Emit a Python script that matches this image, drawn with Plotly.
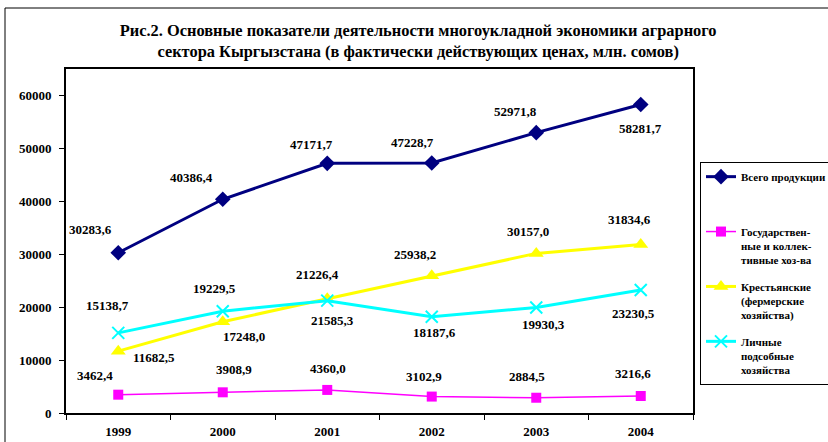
import plotly.graph_objects as go

years = ['1999', '2000', '2001', '2002', '2003', '2004']
total = [30283.6, 40386.4, 47171.7, 47228.7, 52971.8, 58281.7]
state = [3462.4, 3908.9, 4360.0, 3102.9, 2884.5, 3216.6]
peasant = [11682.5, 17248.0, 21585.3, 25938.2, 30157.0, 31834.6]
private = [15138.7, 19229.5, 21226.4, 18187.6, 19930.3, 23230.5]

names = [
    'Всего продукции<br> <br> ',
    'Государствен-<br>ные и коллек-<br>тивные хоз-ва',
    'Крестьянские<br>(фермерские<br>хозяйства)',
    'Личные<br>подсобные<br>хозяйства',
]

# label pixel offsets (dx, dy with dy down-positive) -- styling only
offsets = [
    [(-28, -23), (-31, -22), (-16, -19), (-19, -21), (-21, -21), (0, 24)],
    [(-23, -19), (11, -23), (1, -21), (-8, -20), (-9, -21), (-8, -22)],
    [(36, 6), (21, 15), (5, 22), (-17, -21), (-8, -22), (-11, -25)],
    [(-11, -27), (-8, -23), (-10, -26), (3, 16), (7, 17), (-7, 23)],
]

styles = [
    dict(color='#000080', width=3, symbol='diamond', size=12),
    dict(color='#FF00FF', width=1.5, symbol='square', size=10),
    dict(color='#FFFF00', width=3, symbol='triangle-up', size=13),
    dict(color='#00FFFF', width=3, symbol='x-thin', size=12),
]

series = [total, state, peasant, private]
FONT = 'Liberation Serif, Times New Roman, serif'

fig = go.Figure()
annotations = []
for i, (vals, nm, st) in enumerate(zip(series, names, styles)):
    marker = dict(symbol=st['symbol'], size=st['size'], color=st['color'])
    if st['symbol'] == 'x-thin':
        marker['line'] = dict(color=st['color'], width=2)
    fig.add_trace(go.Scatter(
        x=years, y=vals, mode='lines+markers', name=nm,
        legendgroup='g%d' % i,
        line=dict(color=st['color'], width=st['width']),
        marker=marker,
    ))
    for j, v in enumerate(vals):
        dx, dy = offsets[i][j]
        annotations.append(dict(
            x=j, y=v, xref='x', yref='y',
            text='<b>%s</b>' % ('%.1f' % v).replace('.', ','),
            showarrow=False, xshift=dx, yshift=-dy,
            font=dict(family=FONT, size=13, color='black'),
        ))

fig.update_layout(
    width=828, height=442,
    margin=dict(l=66, r=135, t=69, b=29, autoexpand=False),
    paper_bgcolor='white', plot_bgcolor='white',
    title=dict(
        text='<b>Рис.2. Основные показатели деятельности многоукладной экономики аграрного<br>'
             'сектора Кыргызстана (в фактически действующих ценах, млн. сомов)</b>',
        x=0.505, xref='container', xanchor='center',
        y=1 - 36 / 442, yref='container', yanchor='top',
        font=dict(family=FONT, size=16.4, color='black'),
    ),
    showlegend=True,
    legend=dict(
        x=(700 - 66) / 627, y=(413 - 162) / 344, xanchor='left', yanchor='top',
        bgcolor='white', bordercolor='black', borderwidth=1,
        font=dict(family=FONT, size=11, color='black', weight='bold'),
        tracegroupgap=9, valign='top',
    ),
    annotations=annotations,
    shapes=[dict(type='rect', xref='paper', yref='paper',
                 x0=(5 - 66) / 627, x1=1.4, y0=-0.2, y1=(413 - 8) / 344,
                 line=dict(color='black', width=1), layer='below')],
)

fig.update_xaxes(
    type='category', range=[-0.5, 5.5], tickson='boundaries', ticks='outside',
    ticklen=5, tickcolor='black', showgrid=False, showline=True,
    linecolor='black', linewidth=2, mirror=True, tickangle=0,
    ticklabelstandoff=5,
    tickfont=dict(family=FONT, size=13, color='black', weight='bold'),
)
fig.update_yaxes(
    range=[0, 65000], dtick=10000, tickformat='d', ticks='outside', ticklen=5,
    tickcolor='black', showgrid=False, zeroline=False, showline=True,
    linecolor='black', linewidth=2, mirror=True, ticklabelstandoff=5,
    tickfont=dict(family=FONT, size=13, color='black', weight='bold'),
)

fig.write_html('out.html', config={'displayModeBar': False},
               post_script="document.body.style.margin='0';")
